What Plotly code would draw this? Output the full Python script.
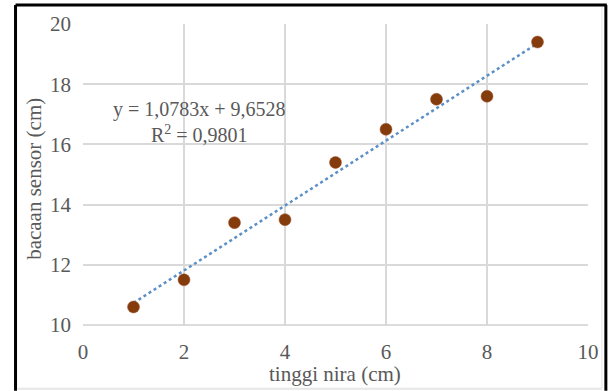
import plotly.graph_objects as go

x_vals = [1, 2, 3, 4, 5, 6, 7, 8, 9]
y_vals = [10.6, 11.5, 13.4, 13.5, 15.4, 16.5, 17.5, 17.6, 19.4]
slope = 1.0783
intercept = 9.6528
eq_text = "y = 1,0783x + 9,6528"
r2_text = "R<sup>2</sup> = 0,9801"
x_title = "tinggi nira (cm)"
y_title = "bacaan sensor (cm)"
x_ticks = [0, 2, 4, 6, 8, 10]
y_ticks = [10, 12, 14, 16, 18, 20]

FONT = "Liberation Serif, Times New Roman, serif"
GRAY = "#595959"

# plot area in pixels
L, R, T, B = 83, 592, 23, 325
W, H = 611, 391

def px(xp):
    return (xp - L) / (R - L)

def py(yp):
    return (B - yp) / (B - T)

trend_x = [min(x_vals), max(x_vals)]
trend_y = [slope * v + intercept for v in trend_x]

fig = go.Figure()
fig.add_trace(go.Scatter(
    x=trend_x, y=trend_y, mode="lines",
    line=dict(color="#5B8FC7", width=2.5, dash="dot"),
    hoverinfo="skip", showlegend=False))
fig.add_trace(go.Scatter(
    x=x_vals, y=y_vals, mode="markers",
    marker=dict(color="#843C0C", size=12, line=dict(color="#A0522D", width=0.5)),
    showlegend=False))

axis_common = dict(
    showgrid=True, gridcolor="#D9D9D9", gridwidth=1.5,
    zeroline=False, showline=False, ticks="",
    tickfont=dict(family=FONT, size=21, color=GRAY),
)
fig.update_xaxes(range=[0, 10], tickvals=x_ticks, ticklabelstandoff=12, **axis_common)
fig.update_yaxes(range=[10, 20], tickvals=y_ticks, ticklabelstandoff=11, **axis_common)

shapes = [
    dict(type="line", xref="paper", yref="paper", x0=0, x1=1, y0=0, y1=0,
         line=dict(color="#D0D0D0", width=1.5)),
    dict(type="line", xref="paper", yref="paper", x0=px(15), x1=px(15), y0=py(391), y1=py(4),
         line=dict(color="black", width=3)),
    dict(type="line", xref="paper", yref="paper", x0=px(15), x1=px(611), y0=py(4), y1=py(4),
         line=dict(color="black", width=3)),
    dict(type="line", xref="paper", yref="paper", x0=px(610), x1=px(610), y0=py(391), y1=py(4),
         line=dict(color="black", width=3)),
    dict(type="line", xref="paper", yref="paper", x0=px(17), x1=px(606), y0=py(389), y1=py(389),
         line=dict(color="#E6E6E6", width=2)),
    dict(type="line", xref="paper", yref="paper", x0=px(606), x1=px(606), y0=py(389), y1=py(6),
         line=dict(color="#EDEDED", width=1.5)),
]

annotations = [
    dict(x=2.30, y=17.16, xref="x", yref="y", text=eq_text, showarrow=False,
         font=dict(family=FONT, size=20, color=GRAY), xanchor="center", yanchor="middle"),
    dict(x=2.30, y=16.33, xref="x", yref="y", text=r2_text, showarrow=False,
         font=dict(family=FONT, size=20, color=GRAY), xanchor="center", yanchor="middle"),
    dict(x=px(337), y=py(374), xref="paper", yref="paper", text=x_title, showarrow=False,
         font=dict(family=FONT, size=21, color=GRAY), xanchor="center", yanchor="middle"),
    dict(x=px(34), y=py(178), xref="paper", yref="paper", text=y_title, showarrow=False,
         textangle=-90, font=dict(family=FONT, size=21, color=GRAY),
         xanchor="center", yanchor="middle"),
]

fig.update_layout(
    width=W, height=H,
    margin=dict(l=L, r=W - R, t=T, b=H - B, pad=0),
    paper_bgcolor="white", plot_bgcolor="white",
    shapes=shapes, annotations=annotations,
    showlegend=False,
)

fig.write_html("out.html")
